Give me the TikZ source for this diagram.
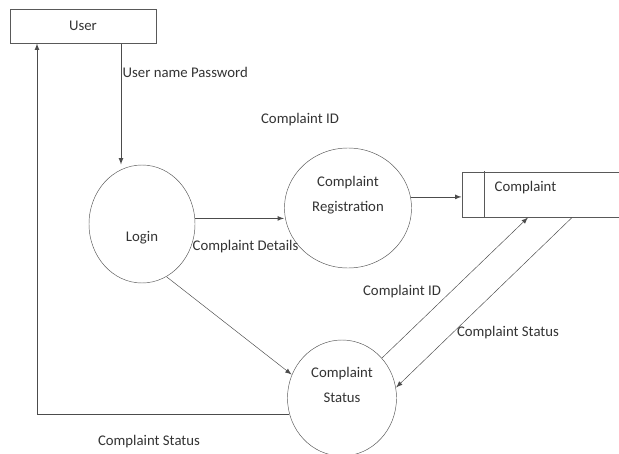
\documentclass[tikz,border=0pt]{standalone}
\usepackage{fontspec}
\setmainfont{Carlito}
\usetikzlibrary{shapes.geometric,calc}
\begin{document}
\begin{tikzpicture}[x=0.03cm, y=-0.03cm]
\tikzset{ >=latex, line width=0.9pt,
  proc/.style={draw=black!65, ellipse, inner sep=0pt},
  lbl/.style={text=black!80, font=\fontsize{12.6}{21}\selectfont, align=center, inner sep=1pt},
  flow/.style={->, draw=black!70},
}
\useasboundingbox (0,0) rectangle (619,454);

\node [draw=black!65, minimum width=4.38cm, minimum height=1.02cm, lbl] (user) at (83,26) {User};
\node [proc, minimum width=3.18cm, minimum height=3.54cm, label={[lbl, yshift=-12pt]center:Login}] (login) at (142,224) {};
\node [proc, minimum width=3.81cm, minimum height=3.6cm, label={[lbl, yshift=11pt]center:Complaint\\Registration}] (reg) at (348,208) {};
\node [proc, minimum width=3.27cm, minimum height=3.48cm, label={[lbl, yshift=11pt]center:Complaint\\Status}] (status) at (342,398) {};

\node [draw=black!65, minimum width=4.8cm, minimum height=1.35cm] (store) at (542,194.5) {};
\draw [draw=black!65] ($(store.north west)+(23,0)$) -- ($(store.south west)+(23,0)$);
\node [lbl, anchor=west] (storeT) at (493,188) {Complaint};

\draw [flow] ($(user.south)+(38,0)$) coordinate (u1) -- (u1 |- login.north);
\draw [flow] (status.197) -| ($(user.south)+(-46,0)$);
\draw [flow] (login.6) -- (login.6 -| reg.west);
\draw [flow] (reg.10) -- (reg.10 -| store.west);
\draw [flow] (login.-65) -- (status.155);
\draw [flow] (status.45) -- ($(store.south)+(-14,0)$);
\draw [flow] ($(store.south)+(30,0)$) -- (status.11);

\node [lbl, anchor=west] (upw) at (121,72) {User name Password};
\node [lbl] (cid1) at (300,120) {Complaint ID};
\node [lbl, anchor=west] (cdet) at (191,247) {Complaint Details};
\node [lbl] (cid2) at (402,292) {Complaint ID};
\node [lbl] (cst1) at (508,333) {Complaint Status};
\node [lbl] (cst2) at (149,442) {Complaint Status};

\end{tikzpicture}
\end{document}
